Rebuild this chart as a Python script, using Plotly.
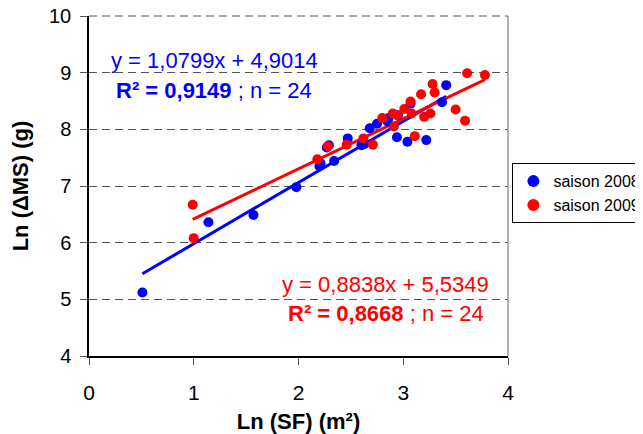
import plotly.graph_objects as go

# ---- data ----
x_2008 = [0.51, 1.14, 1.57, 1.98, 2.20, 2.34, 2.29, 2.47, 2.60, 2.63, 2.68, 2.75, 2.85,
          2.94, 3.04, 3.22, 3.37, 3.41, 2.27, 2.62, 2.86, 2.95, 3.07, 2.21]
y_2008 = [5.12, 6.36, 6.49, 6.98, 7.35, 7.44, 7.72, 7.84, 7.72, 7.74, 8.02, 8.10, 8.14,
          7.86, 7.78, 7.81, 8.48, 8.78, 7.68, 7.80, 8.20, 8.25, 8.45, 7.40]

x_2009 = [0.99, 1.00, 2.18, 2.28, 2.46, 2.62, 2.71, 2.80, 2.90, 2.94, 2.91, 3.01,
          3.07, 3.08, 3.11, 3.17, 3.20, 3.26, 3.28, 3.30, 3.50, 3.59, 3.61, 3.78]
y_2009 = [6.67, 6.08, 7.47, 7.70, 7.73, 7.84, 7.73, 8.20, 8.28, 8.25, 8.05, 8.36,
          8.49, 8.28, 7.88, 8.62, 8.22, 8.28, 8.80, 8.65, 8.35, 8.15, 8.99, 8.96]

slope_2008, intercept_2008 = 1.0799, 4.9014
slope_2009, intercept_2009 = 0.8838, 5.5349

x_ticks = [0, 1, 2, 3, 4]
y_ticks = [4, 5, 6, 7, 8, 9, 10]

BLUE = "#0000FF"
RED = "#FF0000"
FONT = "Liberation Sans, Arial, sans-serif"

def fit_line(xs, a, b):
    x0, x1 = min(xs), max(xs)
    return [x0, x1], [a * x0 + b, a * x1 + b]

fig = go.Figure()

lx, ly = fit_line(x_2008, slope_2008, intercept_2008)
fig.add_trace(go.Scatter(x=lx, y=ly, mode="lines", line=dict(color=BLUE, width=3),
                         showlegend=False, hoverinfo="skip"))
lx, ly = fit_line(x_2009, slope_2009, intercept_2009)
fig.add_trace(go.Scatter(x=lx, y=ly, mode="lines", line=dict(color=RED, width=3),
                         showlegend=False, hoverinfo="skip"))

fig.add_trace(go.Scatter(x=x_2008, y=y_2008, mode="markers", name="saison 2008",
                         marker=dict(color=BLUE, size=10)))
fig.add_trace(go.Scatter(x=x_2009, y=y_2009, mode="markers", name="saison 2009",
                         marker=dict(color=RED, size=10)))

fig.add_annotation(x=1.20, y=9.22, xref="x", yref="y", showarrow=False,
                   text="y = 1,0799x + 4,9014", font=dict(color=BLUE, size=22, family=FONT))
fig.add_annotation(x=1.19, y=8.69, xref="x", yref="y", showarrow=False,
                   text="<b>R² = 0,9149</b> ; n = 24", font=dict(color=BLUE, size=22, family=FONT))
fig.add_annotation(x=2.826, y=5.27, xref="x", yref="y", showarrow=False,
                   text="y = 0,8838x + 5,5349", font=dict(color=RED, size=22, family=FONT))
fig.add_annotation(x=2.836, y=4.75, xref="x", yref="y", showarrow=False,
                   text="<b>R² = 0,8668</b> ; n = 24", font=dict(color=RED, size=22, family=FONT))

# right border of plot area and dashed top edge
fig.add_shape(type="line", xref="paper", yref="paper", x0=1, x1=1, y0=0, y1=1,
              line=dict(color="#999999", width=1.5))
fig.add_shape(type="line", xref="paper", yref="paper", x0=0, x1=1, y0=1, y1=1,
              line=dict(color="#555555", width=1, dash="8px,5px"))

# page body adds an 8px offset, so the figure is sized to fill the rest of the window
fig.update_layout(
    width=635, height=426,
    margin=dict(l=81, r=135, t=8, b=78, autoexpand=False),
    paper_bgcolor="white", plot_bgcolor="white",
    font=dict(family=FONT, color="black"),
    legend=dict(x=1.0105, y=0.567, xanchor="left", yanchor="top",
                bordercolor="black", borderwidth=1, bgcolor="white",
                font=dict(size=16, family=FONT, color="black"),
                itemsizing="constant"),
    xaxis=dict(range=[0, 4], tickvals=x_ticks, ticks="outside", ticklen=7,
               tickcolor="#555", showgrid=False, zeroline=False,
               showline=True, linecolor="black", linewidth=1.5,
               tickfont=dict(size=21, family=FONT), automargin=False,
               ticklabelstandoff=10, ticklabeloverflow="allow",
               title=dict(text="<b>Ln (SF) (m²)</b>", font=dict(size=22, family=FONT), standoff=15)),
    yaxis=dict(range=[4, 10], tickvals=y_ticks, ticks="outside", ticklen=7,
               tickcolor="#555", showgrid=True, gridcolor="#555", griddash="8px,5px",
               gridwidth=1, zeroline=False, automargin=False,
               showline=True, linecolor="black", linewidth=1.5,
               tickfont=dict(size=20, family=FONT), ticklabelstandoff=5,
               ticklabeloverflow="allow",
               title=dict(text="<b>Ln (ΔMS) (g)</b>", font=dict(size=22, family=FONT), standoff=32)),
)

fig.write_html("out.html")
